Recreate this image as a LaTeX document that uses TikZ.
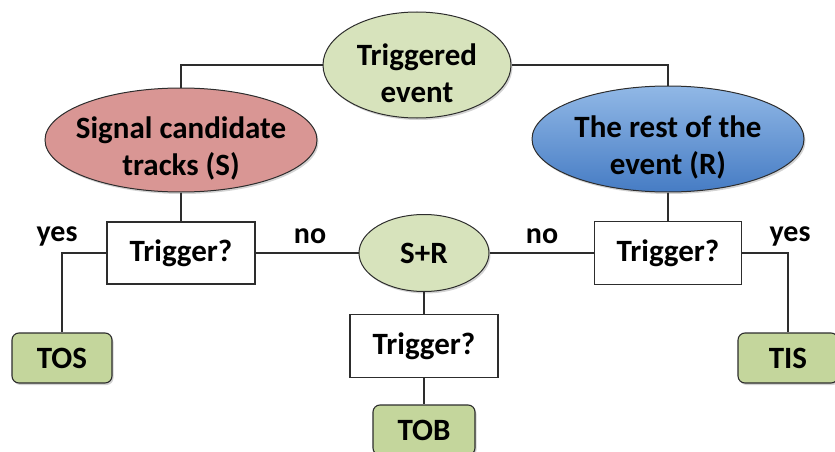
\documentclass[tikz,border=0pt]{standalone}
\usepackage{fontspec}
\setmainfont{Carlito}
\usetikzlibrary{shapes.geometric,shadows}
\definecolor{lgreen}{RGB}{215,227,188}
\definecolor{mgreen}{RGB}{196,214,156}
\definecolor{lred}{RGB}{217,150,148}
\definecolor{btop}{RGB}{145,184,230}
\definecolor{bbot}{RGB}{70,124,196}
\definecolor{edge}{RGB}{45,45,45}
\begin{document}
\begin{tikzpicture}[x=1pt,y=-1pt,
  every node/.style={font=\fontsize{31}{37}\selectfont\bfseries, text=black, align=center, inner sep=0pt},
  shad/.style={drop shadow={opacity=0.35, shadow xshift=1.5pt, shadow yshift=-2pt}},
  ell/.style={ellipse, draw=edge, line width=1pt, shad},
  txt/.style={label={[yshift=-8pt]center:#1}},
  qbox/.style={rectangle, draw=edge, line width=1.1pt, fill=white},
  res/.style={rectangle, rounded corners=7pt, draw=edge, line width=1.1pt, fill=mgreen, shad, minimum width=100pt, minimum height=50pt},
  conn/.style={draw=edge, line width=1.1pt},
  lab/.style={font=\fontsize{30}{34}\selectfont\bfseries}]
\useasboundingbox (0,0) rectangle (835,452);
\node[ell, fill=lgreen, minimum width=188pt, minimum height=106pt, txt={Triggered\\event}] (te) at (417,65) {};
\node[ell, fill=lred, minimum width=272pt, minimum height=104pt, txt={Signal candidate\\tracks (S)}] (sig) at (181,140) {};
\node[ell, top color=btop, bottom color=bbot, minimum width=272pt, minimum height=106pt, txt={The rest of the\\event (R)}] (rest) at (668,139) {};
\node[qbox, minimum width=148pt, minimum height=62pt] (t1) at (181,253) {Trigger?};
\node[qbox, minimum width=147pt, minimum height=63pt] (t2) at (668,253) {Trigger?};
\node[ell, fill=lgreen, minimum width=130pt, minimum height=77pt] (sr) at (424,253) {S+R};
\node[qbox, minimum width=148pt, minimum height=63pt] (t3) at (424,346) {Trigger?};
\node[res] (tos) at (62,358) {TOS};
\node[res] (tis) at (788,358) {TIS};
\node[res, minimum width=102pt] (tob) at (424,430) {TOB};
\node[lab] (y1) at (57,236) {yes};
\node[lab] (n1) at (310,236) {no};
\node[lab] (n2) at (542,236) {no};
\node[lab] (y2) at (790,236) {yes};
\draw[conn] (te.west) -| (sig.north);
\draw[conn] (te.east) -| (rest.north);
\draw[conn] (sig.south) -- (t1.north);
\draw[conn] (rest.south) -- (t2.north);
\draw[conn] (t1.west) -| (tos.north);
\draw[conn] (t2.east) -| (tis.north);
\draw[conn] (t1.east) -- (sr.west);
\draw[conn] (sr.east) -- (t2.west);
\draw[conn] (sr.south) -- (t3.north);
\draw[conn] (t3.south) -- (tob.north);
\end{tikzpicture}
\end{document}
